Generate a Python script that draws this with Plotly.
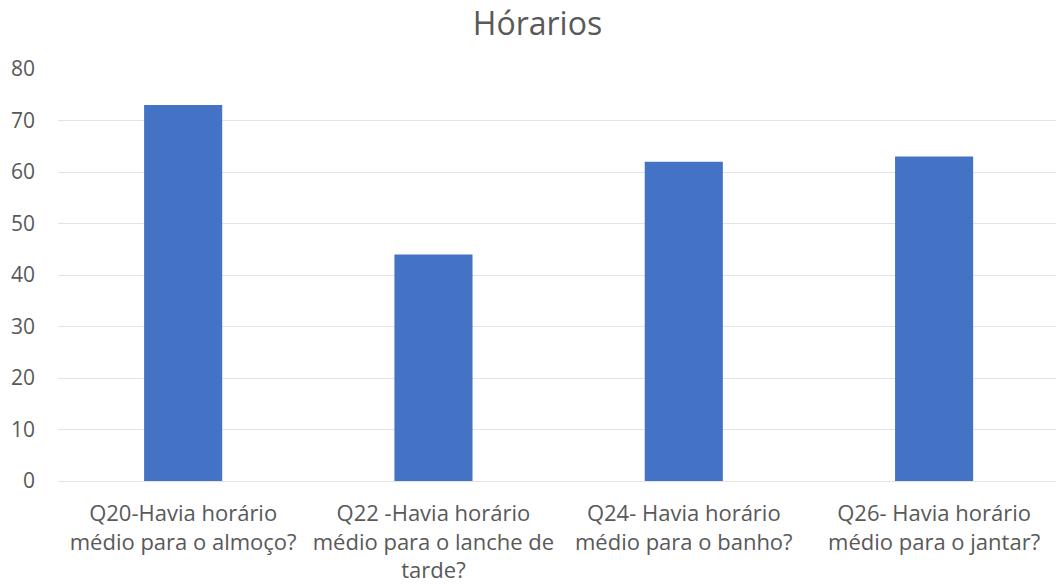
import plotly.graph_objects as go

# Survey answers per question
categories = [
    "Q20-Havia horário<br>médio para o almoço?",
    "Q22 -Havia horário<br>médio para o lanche de<br>tarde?",
    "Q24- Havia horário<br>médio para o banho?",
    "Q26- Havia horário<br>médio para o jantar?",
]
values = [73, 44, 62, 63]
y_ticks = [0, 10, 20, 30, 40, 50, 60, 70, 80]

font_family = "Open Sans, Liberation Sans, sans-serif"
text_color = "#595959"

fig = go.Figure(
    go.Bar(
        x=categories,
        y=values,
        marker=dict(color="#4472C4", line=dict(width=0)),
    )
)

fig.update_layout(
    width=1056,
    height=585,
    margin=dict(l=58, r=0, t=69, b=104),
    paper_bgcolor="white",
    plot_bgcolor="white",
    bargap=0.688,
    showlegend=False,
    title=dict(
        text="Hórarios",
        x=0.509,
        xanchor="center",
        y=0.96,
        yanchor="middle",
        font=dict(family=font_family, size=32, color=text_color),
    ),
    font=dict(family=font_family, size=22, color=text_color),
)

fig.update_xaxes(
    range=[-0.5, 3.487],
    showgrid=False,
    showline=False,
    ticks="",
    ticklabelstandoff=17,
    tickfont=dict(family=font_family, size=22, color=text_color),
)
fig.update_yaxes(
    range=[0, 80],
    tickvals=y_ticks,
    showgrid=True,
    gridcolor="#E3E3E3",
    gridwidth=1,
    zeroline=True,
    zerolinecolor="#E3E3E3",
    zerolinewidth=1,
    showline=False,
    ticks="",
    ticklabelstandoff=22,
    tickfont=dict(family=font_family, size=21, color=text_color),
)

fig.write_html("out.html")
